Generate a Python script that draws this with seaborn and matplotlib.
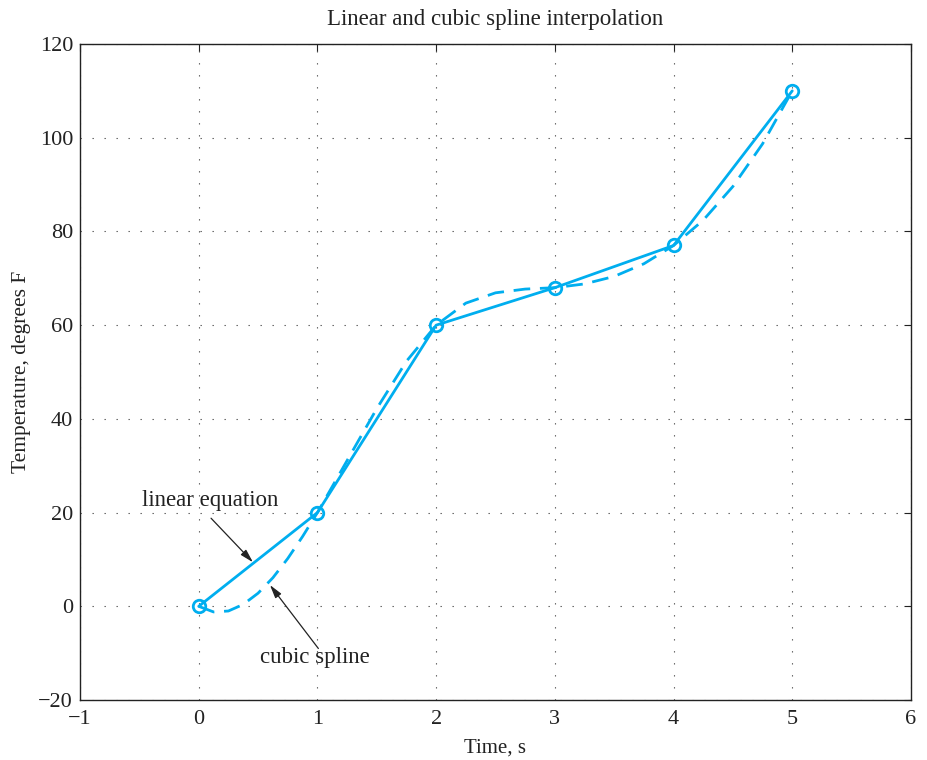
import matplotlib
matplotlib.use("Agg")
import matplotlib.pyplot as plt
import seaborn as sns
import pandas as pd

# Data
time_s = [0, 1, 2, 3, 4, 5]
temp_f = [0, 20, 60, 68, 77, 110]

spline_x = [0, 0.125, 0.25, 0.375, 0.5, 0.625, 0.75, 0.875, 1.0,
            1.25, 1.5, 1.75, 2.0, 2.25, 2.5, 2.75, 3.0,
            3.25, 3.5, 3.75, 4.0, 4.25, 4.5, 4.75, 5.0]
spline_y = [0, -1.2, -1.0, 0.4, 2.8, 6.1, 10.2, 14.9, 20.0,
            31.1, 42.2, 52.3, 60.0, 64.7, 66.9, 67.7, 68.0,
            68.8, 70.4, 73.1, 77.0, 82.4, 89.6, 98.7, 110.0]

xticks = [-1, 0, 1, 2, 3, 4, 5, 6]
yticks = [-20, 0, 20, 40, 60, 80, 100, 120]

title = "Linear and cubic spline interpolation"
xlabel = "Time, s"
ylabel = "Temperature, degrees F"

sns.set_style("white")
plt.rcParams['font.family'] = ['Liberation Serif', 'DejaVu Serif']
plt.rcParams['mathtext.fontset'] = 'stix'

color = "#00aeef"
ink = "#222222"

fig = plt.figure(figsize=(9.27, 7.6), dpi=100)
ax = fig.add_axes([0.0863, 0.0789, 0.8964, 0.8632])

df_lin = pd.DataFrame({"t": time_s, "T": temp_f})
df_sp = pd.DataFrame({"t": spline_x, "T": spline_y})

sns.lineplot(data=df_sp, x="t", y="T", ax=ax, color=color, linewidth=2.0,
             sort=False)
ax.lines[-1].set_dashes((6, 3.5))
sns.lineplot(data=df_lin, x="t", y="T", ax=ax, color=color, linewidth=2.0,
             marker="o", markersize=9, markerfacecolor="none",
             markeredgecolor=color, markeredgewidth=2.0, sort=False)

ax.set_xlim(-1, 6)
ax.set_ylim(-20, 120)
ax.set_xticks(xticks)
ax.set_yticks(yticks)
ax.set_xticklabels(["\u22121", "0", "1", "2", "3", "4", "5", "6"])
ax.set_yticklabels(["\u221220", "0", "20", "40", "60", "80", "100", "120"])

ax.grid(True, color="#555555", linestyle=(0, (1.2, 9.6)), linewidth=0.8)
ax.tick_params(direction="in", length=5, width=0.8, top=True, right=True,
               labelsize=16, colors=ink)
ax.tick_params(axis="x", pad=7)
ax.tick_params(axis="y", pad=5)
for s in ax.spines.values():
    s.set_color(ink)
    s.set_linewidth(1.0)

ax.set_title(title, fontsize=16.5, color=ink, pad=14)
ax.set_xlabel(xlabel, fontsize=15, color=ink, labelpad=7)
ax.set_ylabel(ylabel, fontsize=15.5, color=ink, labelpad=5)

arrow = dict(arrowstyle="-|>,head_length=0.8,head_width=0.22",
             color=ink, lw=0.9, shrinkA=0, shrinkB=0)
ax.annotate("", xy=(0.457, 9.4), xytext=(0.104, 18.8), arrowprops=arrow)
ax.text(0.1, 22.6, "linear equation", fontsize=16.5, color=ink,
        ha="center", va="center")
ax.annotate("", xy=(0.6, 4.55), xytext=(1.008, -9.0), arrowprops=arrow)
ax.text(0.975, -11.0, "cubic spline", fontsize=16.5, color=ink,
        ha="center", va="center")

fig.savefig("out.png", dpi=100)
